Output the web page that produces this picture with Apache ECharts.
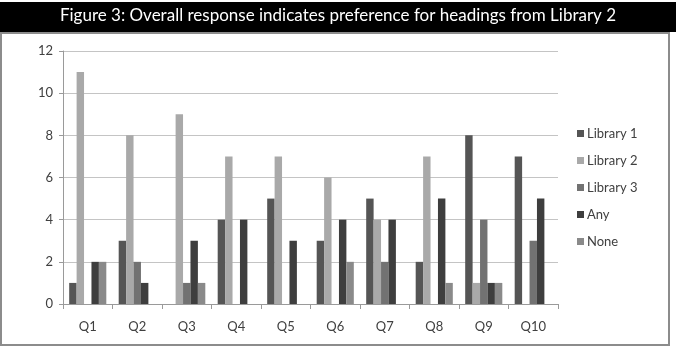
<!DOCTYPE html>
<html><head><meta charset="utf-8">
<script src="https://cdn.jsdelivr.net/npm/echarts@6/dist/echarts.min.js"></script>
<style>html,body{margin:0;padding:0;background:#fff}#c{width:676px;height:352px}</style>
</head><body><div id="c"></div>
<script>
const categories = ['Q1','Q2','Q3','Q4','Q5','Q6','Q7','Q8','Q9','Q10'];
const library1 = [1,3,0,4,5,3,5,2,8,7];
const library2 = [11,8,9,7,7,6,4,7,1,0];
const library3 = [0,2,1,0,0,0,2,0,4,3];
const anyPref  = [2,1,3,4,3,4,4,5,1,5];
const nonePref = [2,0,1,0,0,2,0,1,1,0];
const seriesNames = ['Library 1','Library 2','Library 3','Any','None'];
const yTicks = [0,2,4,6,8,10,12];
const titleText = 'Figure 3: Overall response indicates preference for headings from Library 2';

const colors = ['#555555','#a9a9a9','#727272','#3e3e3e','#8a8a8a'];
const dataSets = [library1, library2, library3, anyPref, nonePref];
const FONT = 'Lato';

const chart = echarts.init(document.getElementById('c'), null, {renderer:'canvas'});
chart.setOption({
  animation:false,
  graphic:[
    {type:'rect', shape:{x:1,y:33,width:668,height:312}, style:{fill:'#fff',stroke:'#8c8c8c',lineWidth:2}, z:-10},
    {type:'rect', shape:{x:0,y:2,width:676,height:30}, style:{fill:'#000'}, z:-5},
    {type:'text', left:'center', top:7, style:{text:titleText, fill:'#fff', font:'17px '+FONT}}
  ],
  grid:{left:63, right:118, top:51, bottom:48},
  legend:{
    orient:'vertical', left:572, top:122, itemWidth:7, itemHeight:7, itemGap:14,
    icon:'rect', data:seriesNames,
    textStyle:{fontFamily:FONT, fontSize:13, color:'#404040', padding:[0,0,0,-2]}
  },
  xAxis:{
    type:'category', data:categories,
    axisLine:{lineStyle:{color:'#9a9a9a'}},
    axisTick:{show:true, alignWithLabel:false, length:5, lineStyle:{color:'#9a9a9a'}},
    axisLabel:{fontFamily:FONT, fontSize:13, color:'#404040', margin:16}
  },
  yAxis:{
    type:'value', min:0, max:12, interval:2,
    axisLine:{show:true, lineStyle:{color:'#9a9a9a'}},
    axisTick:{show:true, length:4, lineStyle:{color:'#9a9a9a'}},
    splitLine:{lineStyle:{color:'#c4c4c4'}},
    axisLabel:{fontFamily:FONT, fontSize:13, color:'#404040', margin:10,
      formatter:v=>yTicks.includes(v)?String(v):''}
  },
  series: seriesNames.map((n,i)=>({
    name:n, type:'bar', data:dataSets[i], barGap:'0%', barCategoryGap:'25%',
    itemStyle:{color:colors[i]}
  }))
});
</script></body></html>
